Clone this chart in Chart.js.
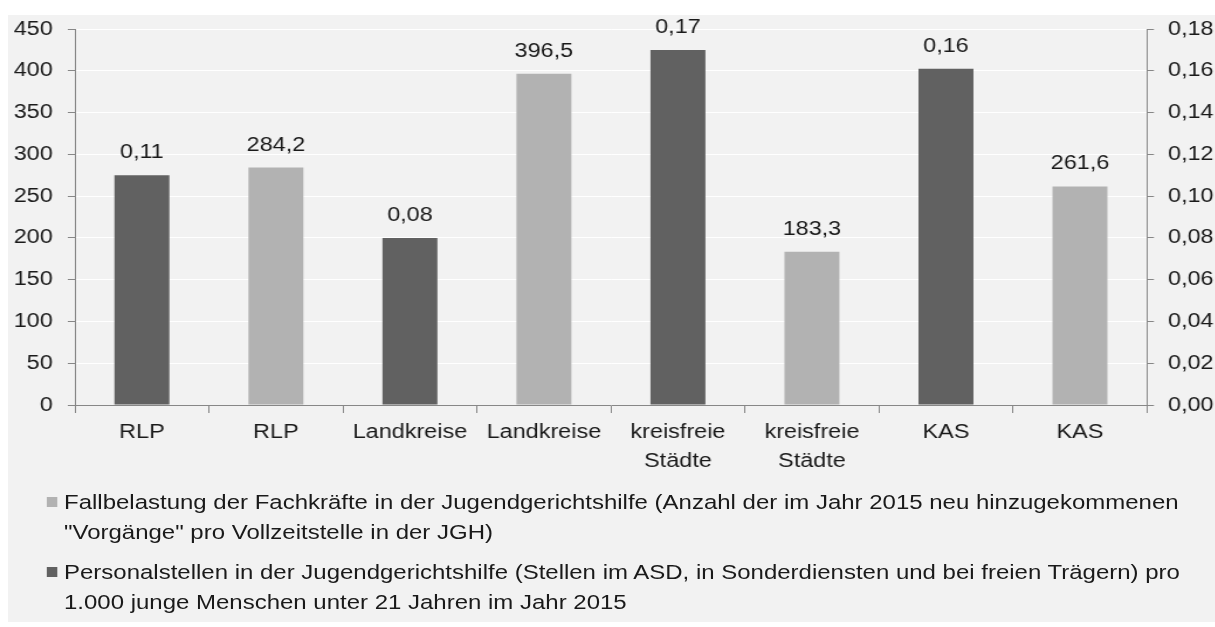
<!DOCTYPE html>
<html lang="de">
<head>
<meta charset="utf-8">
<title>Jugendgerichtshilfe</title>
<script src="https://cdn.jsdelivr.net/npm/chart.js@4/dist/chart.umd.min.js"></script>
<style>
  html, body { margin: 0; padding: 0; background: #fff; }
  body { width: 1215px; height: 627px; position: relative; overflow: hidden; font-family: "Liberation Sans", Arial, sans-serif; }
  .panel { position: absolute; left: 8px; top: 15px; width: 1207px; height: 607px; background: #f2f2f2; }
  /* the original chart is drawn narrower and stretched sideways, like the reference */
  .stretch { position: absolute; left: 0; top: 0; width: 1039px; height: 627px; transform: scaleX(1.17); transform-origin: 0 0; }
  .chart-box { position: absolute; left: 0; top: 0; width: 1039px; height: 480px; }
  .lg-box { position: absolute; width: 9px; height: 9.5px; }
  .lg-text { position: absolute; font-size: 20.5px; line-height: 29.5px; color: #1a1a1a; white-space: nowrap; }
</style>
</head>
<body>
<div class="panel"></div>
<div class="stretch">
  <div class="chart-box"><canvas id="jghChart"></canvas></div>
  <div id="legend"></div>
</div>
<script>
// ——— DATA ———
const categories = ['RLP', 'RLP', 'Landkreise', 'Landkreise', ['kreisfreie', 'Städte'], ['kreisfreie', 'Städte'], 'KAS', 'KAS'];
const fallbelastung = [null, 284.2, null, 396.5, null, 183.3, null, 261.6];
const personalstellen = [0.11, null, 0.08, null, 0.17, null, 0.161, null];

const leftTicks = { min: 0, max: 450, step: 50 };
const rightTicks = { min: 0, max: 0.18, step: 0.02 };

const legendLines = [
    ['Fallbelastung der Fachkräfte in der Jugendgerichtshilfe (Anzahl der im Jahr 2015 neu hinzugekommenen', '"Vorgänge" pro Vollzeitstelle in der JGH)'],
    ['Personalstellen in der Jugendgerichtshilfe (Stellen im ASD, in Sonderdiensten und bei freien Trägern) pro', '1.000 junge Menschen unter 21 Jahren im Jahr 2015']
];

const LIGHT = '#b2b2b2';
const DARK = '#616161';
const AXIS = '#878787';
const TEXT = '#1a1a1a';

// ——— HELPERS ———
const fmt = (v, d) => v.toFixed(d).replace('.', ',');

// value labels above each bar
const valueLabels = {
    id: 'valueLabels',
    afterDatasetsDraw(chart) {
        const c = chart.ctx;
        c.save();
        c.font = '20px "Liberation Sans", Arial, sans-serif';
        c.fillStyle = TEXT;
        c.textAlign = 'center';
        c.textBaseline = 'alphabetic';
        chart.data.datasets.forEach((ds, i) => {
            const dec = ds.yAxisID === 'y1' ? 2 : 1;
            chart.getDatasetMeta(i).data.forEach((bar, j) => {
                const v = ds.data[j];
                if (v == null) return;
                c.fillText(fmt(v, dec), bar.x, bar.y - 17);
            });
        });
        c.restore();
    }
};

// ——— CHART ———
Chart.defaults.font.family = '"Liberation Sans", Arial, sans-serif';
Chart.defaults.font.size = 20;
Chart.defaults.color = TEXT;

const ctx = document.getElementById('jghChart').getContext('2d');
new Chart(ctx, {
    type: 'bar',
    data: {
        labels: categories,
        datasets: [
            {
                label: legendLines[0].join(' '),
                data: fallbelastung,
                backgroundColor: LIGHT,
                yAxisID: 'y',
                grouped: false,
                barPercentage: 0.41,
                categoryPercentage: 1
            },
            {
                label: legendLines[1].join(' '),
                data: personalstellen,
                backgroundColor: DARK,
                yAxisID: 'y1',
                grouped: false,
                barPercentage: 0.41,
                categoryPercentage: 1
            }
        ]
    },
    plugins: [valueLabels],
    options: {
        responsive: true,
        maintainAspectRatio: false,
        animation: false,
        layout: { padding: { top: 29, left: 0, right: 0, bottom: 0 } },
        plugins: {
            legend: { display: false },
            tooltip: { enabled: false }
        },
        scales: {
            x: {
                offset: true,
                grid: { display: true, drawOnChartArea: false, drawTicks: true, tickLength: 8, color: AXIS, offset: true },
                border: { color: AXIS },
                ticks: { color: TEXT, padding: 5, maxRotation: 0, autoSkip: false, font: { size: 20, lineHeight: 1.45 } },
                afterFit: s => { s.height = 75; }
            },
            y: {
                position: 'left',
                min: leftTicks.min,
                max: leftTicks.max,
                grid: { color: '#ffffff', tickColor: AXIS, tickLength: 6 },
                border: { color: AXIS },
                ticks: { stepSize: leftTicks.step, padding: 13, color: TEXT },
                afterFit: s => { s.width = 64; }
            },
            y1: {
                position: 'right',
                min: rightTicks.min,
                max: rightTicks.max,
                grid: { drawOnChartArea: false, tickColor: AXIS, tickLength: 6 },
                border: { color: AXIS },
                ticks: { stepSize: rightTicks.step, padding: 12, color: TEXT, callback: v => fmt(v, 2) },
                afterFit: s => { s.width = 58.7; }
            }
        }
    }
});

// ——— LEGEND ———
const legendColors = [LIGHT, DARK];
const legendTops = [487, 557];
const lg = document.getElementById('legend');
legendLines.forEach((lines, i) => {
    const box = document.createElement('div');
    box.className = 'lg-box';
    box.style.background = legendColors[i];
    box.style.left = '40.2px';
    box.style.top = (legendTops[i] + 10) + 'px';
    lg.appendChild(box);

    const t = document.createElement('div');
    t.className = 'lg-text';
    t.style.left = '54.7px';
    t.style.top = legendTops[i] + 'px';
    t.innerHTML = lines.map(l => l.replace(/&/g, '&amp;').replace(/</g, '&lt;')).join('<br>');
    lg.appendChild(t);
});
</script>
</body>
</html>
